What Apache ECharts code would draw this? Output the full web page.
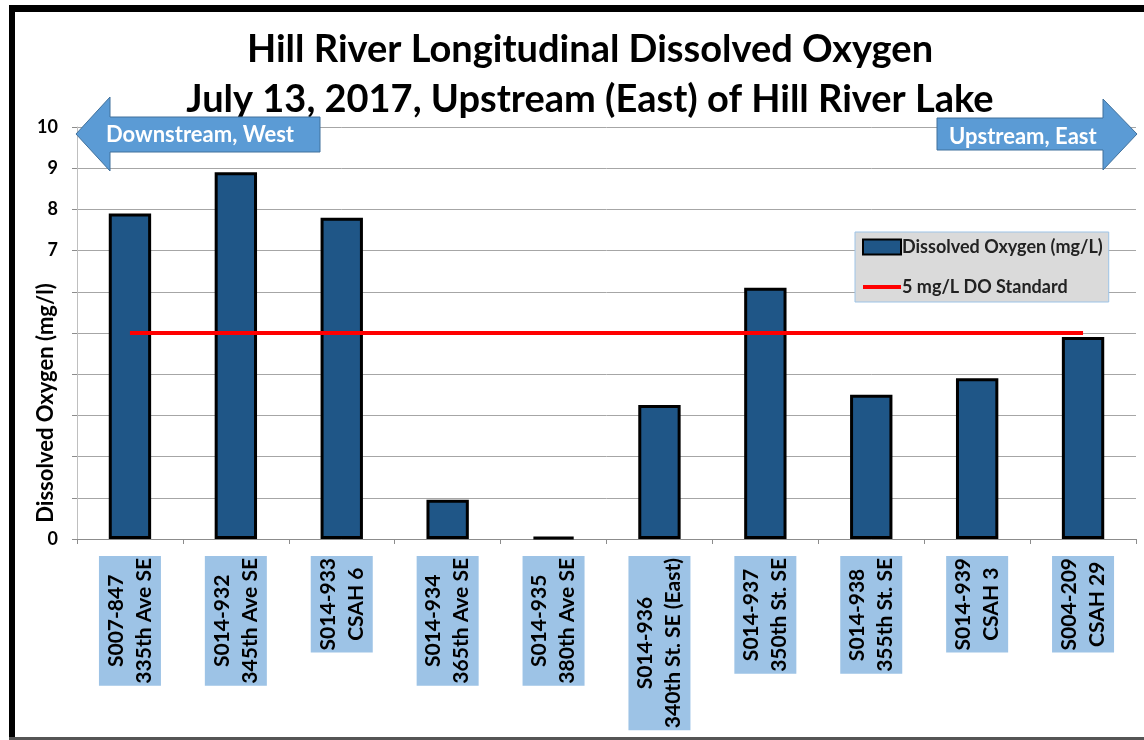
<!DOCTYPE html>
<html>
<head>
<meta charset="utf-8">
<script src="https://cdn.jsdelivr.net/npm/echarts@6/dist/echarts.min.js"></script>
<style>
  html, body { margin: 0; padding: 0; background: #fff; }
  #chart { width: 1144px; height: 740px; }
</style>
</head>
<body>
<div id="chart"></div>
<script>
  // sites from downstream (west) to upstream (east)
  const siteIds = ['S007-847', 'S014-932', 'S014-933', 'S014-934', 'S014-935',
    'S014-936', 'S014-937', 'S014-938', 'S014-939', 'S004-209']
  const siteNames = ['335th Ave SE', '345th Ave SE', 'CSAH 6', '365th Ave SE', '380th Ave SE',
    '340th St. SE (East)', '350th St. SE', '355th St. SE', 'CSAH 3', 'CSAH 29']
  const dissolvedOxygen = [7.9, 8.9, 7.8, 0.95, 0.05, 3.25, 6.1, 3.5, 3.9, 4.9]
  const doStandard = [5, 5, 5, 5, 5, 5, 5, 5, 5, 5]
  const yLabelsShown = [0, 7, 8, 9, 10]

  const font = 'Lato, "Open Sans", sans-serif'
  const chart = echarts.init(document.getElementById('chart'))

  chart.setOption({
    backgroundColor: '#fff',
    textStyle: { fontFamily: font },
    title: {
      text: 'Hill River Longitudinal Dissolved Oxygen\nJuly 13, 2017, Upstream (East) of Hill River Lake',
      left: 585,
      top: 20,
      textAlign: 'center',
      textStyle: {
        fontFamily: font,
        fontSize: 38,
        fontWeight: 'bold',
        lineHeight: 50,
        color: '#000'
      }
    },
    legend: {
      orient: 'vertical',
      left: 855,
      top: 232,
      width: 262,
      padding: [6, 6, 6, 6],
      itemGap: 22,
      itemWidth: 38,
      itemHeight: 15,
      backgroundColor: '#DADADA',
      borderColor: '#9DC3E6',
      borderWidth: 1,
      textStyle: { fontFamily: font, fontSize: 18, fontWeight: 'bold', color: '#222', padding: [0, 0, 0, -4] },
      data: [
        { name: 'Dissolved Oxygen (mg/L)', icon: 'rect' },
        { name: '5 mg/L DO Standard', itemStyle: { opacity: 0 }, lineStyle: { width: 4, color: '#FF0000' } }
      ]
    },
    grid: {
      left: 77,
      right: 8,
      top: 127,
      bottom: 201
    },
    xAxis: {
      type: 'category',
      data: siteIds,
      axisLine: { lineStyle: { color: '#8c8c8c' } },
      axisTick: { show: true, length: 5, lineStyle: { color: '#8c8c8c' } },
      axisLabel: {
        rotate: 90,
        interval: 0,
        margin: 17,
        color: '#000',
        backgroundColor: '#9DC3E6',
        padding: [3, 2, 3, 2],
        richInheritPlainLabel: false,
        formatter: (v, i) => '{a|' + v + '}\n{a|' + siteNames[i] + '}',
        rich: {
          a: {
            fontFamily: font,
            fontSize: 21,
            fontWeight: 'bold',
            lineHeight: 28,
            align: 'center',
            color: '#000'
          }
        }
      }
    },
    yAxis: {
      type: 'value',
      min: 0,
      max: 10,
      interval: 1,
      name: 'Dissolved Oxygen (mg/l)',
      nameLocation: 'middle',
      nameMoveOverlap: false,
      nameGap: 20,
      nameTextStyle: {
        fontFamily: font,
        fontSize: 22,
        fontWeight: 'bold',
        color: '#000',
        padding: [0, 140, 0, 0]
      },
      axisLine: { show: true, lineStyle: { color: '#bfbfbf' } },
      axisTick: { show: true, inside: false, length: 5, lineStyle: { color: '#8c8c8c' } },
      splitLine: { lineStyle: { color: '#a6a6a6', width: 1 } },
      axisLabel: {
        margin: 19,
        fontFamily: font,
        fontSize: 18,
        fontWeight: 'bold',
        color: '#000',
        formatter: v => (yLabelsShown.includes(v) ? String(v) : '')
      }
    },
    series: [
      {
        name: 'Dissolved Oxygen (mg/L)',
        type: 'bar',
        data: dissolvedOxygen,
        barWidth: '40%',
        itemStyle: {
          color: '#1F5687',
          borderColor: '#000',
          borderWidth: 3
        },
        z: 2
      },
      {
        name: '5 mg/L DO Standard',
        type: 'line',
        data: doStandard,
        symbol: 'none',
        lineStyle: { color: '#FF0000', width: 4 },
        itemStyle: { color: '#FF0000' },
        z: 3
      }
    ],
    graphic: [
      // frame
      { type: 'rect', shape: { x: 9, y: 5, width: 1135, height: 7 }, style: { fill: '#000' }, silent: true },
      { type: 'rect', shape: { x: 9, y: 5, width: 6, height: 735 }, style: { fill: '#000' }, silent: true },
      { type: 'rect', shape: { x: 9, y: 737, width: 1135, height: 3 }, style: { fill: '#555' }, silent: true },
      // downstream arrow
      {
        type: 'polygon',
        shape: { points: [[76, 134], [110, 97], [110, 117], [320, 117], [320, 152], [110, 152], [110, 171]] },
        style: { fill: '#5B9BD5', stroke: '#41719C', lineWidth: 1 },
        z: 10
      },
      {
        type: 'text',
        left: 106, top: 124,
        style: { text: 'Downstream, West', fill: '#fff', font: 'bold 22px ' + font },
        z: 11
      },
      // upstream arrow
      {
        type: 'polygon',
        shape: { points: [[937, 118], [1103, 118], [1103, 99], [1137, 134], [1103, 170], [1103, 150], [937, 150]] },
        style: { fill: '#5B9BD5', stroke: '#41719C', lineWidth: 1 },
        z: 10
      },
      {
        type: 'text',
        left: 949, top: 126,
        style: { text: 'Upstream, East', fill: '#fff', font: 'bold 22px ' + font },
        z: 11
      }
    ]
  })
</script>
</body>
</html>
